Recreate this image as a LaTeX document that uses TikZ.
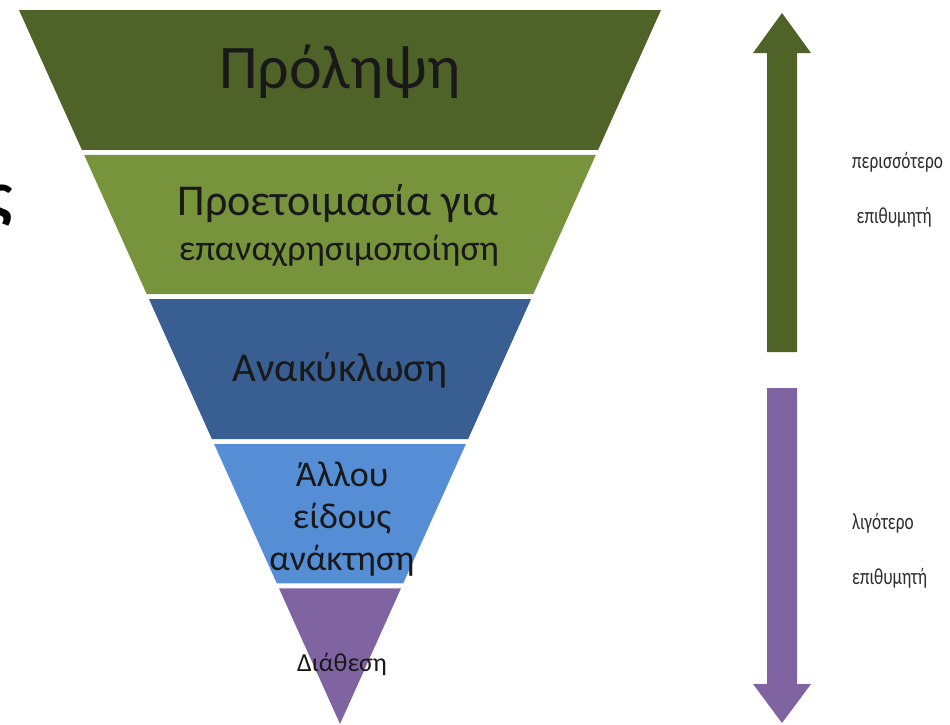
\documentclass[tikz,border=0pt]{standalone}
\usepackage{fontspec}
\setmainfont{Carlito}
\usepackage{tikz}
\usetikzlibrary{calc,positioning}
\definecolor{prevgreen}{RGB}{79,98,40}
\definecolor{prepgreen}{RGB}{119,147,60}
\definecolor{recyblue}{RGB}{56,94,146}
\definecolor{recovblue}{RGB}{85,142,213}
\definecolor{disppurple}{RGB}{128,100,162}
\definecolor{txtdark}{RGB}{25,25,25}
\definecolor{sidegrey}{RGB}{45,45,45}
\tikzstyle{bandtxt} = [text=txtdark, align=center, inner sep=0pt]
\tikzstyle{sidetxt} = [text=sidegrey, align=left, inner sep=0pt, xscale=0.75, transform shape,
	font=\fontsize{23}{55}\selectfont]

\begin{document}
\begin{tikzpicture}[x=1pt, y=-1pt]
\useasboundingbox (0,0) rectangle (950,724);
% corners of the funnel
\coordinate (apex) at (340,724);
\coordinate (tl) at (19,10);
\coordinate (tr) at (661,10);
% the five bands, top to bottom
\foreach \hi/\lo/\col in {1/0.804/prevgreen, 0.797/0.602/prepgreen, 0.595/0.399/recyblue,
	0.392/0.197/recovblue, 0.190/0/disppurple}
	\fill [\col] ($(apex)!\hi!(tl)$) -- ($(apex)!\hi!(tr)$) -- ($(apex)!\lo!(tr)$) -- ($(apex)!\lo!(tl)$) -- cycle;

\node(prev) [bandtxt, font=\fontsize{62}{68}\selectfont] at (340,72) {Πρόληψη};
\node(prep) [bandtxt, font=\fontsize{44}{50}\selectfont] at (338,204) {Προετοιμασία για};
\node(prep2) [bandtxt, font=\fontsize{36}{40}\selectfont] at (339,251) {επαναχρησιμοποίηση};
\node(recy) [bandtxt, font=\fontsize{41}{46}\selectfont] at (340,370) {Ανακύκλωση};
\node(recov) [bandtxt, font=\fontsize{36}{42}\selectfont] at (342,519) {Άλλου\\είδους\\ανάκτηση};
\node(disp) [bandtxt, font=\fontsize{26}{30}\selectfont] at (342,664) {Διάθεση};

% cut-off letter at the left edge
\node(sig) [anchor=east, inner sep=0pt, font=\bfseries\fontsize{64}{64}\selectfont] at (13,206) {ς};

% direction arrows
\fill [prevgreen] (782,13) -- (811,53) -- (797,53) -- (797,352) -- (767,352) -- (767,53) -- (753,53) -- cycle;
\fill [disppurple] (782,723) -- (811,684) -- (797,684) -- (797,388) -- (767,388) -- (767,684) -- (753,684) -- cycle;
\coordinate (upar) at (782,190);
\coordinate (dnar) at (782,550);

\node(uplbl) [sidetxt, anchor=west] at (852,190) {περισσότερο\\\hspace*{6pt}επιθυμητή};
\node(dnlbl) [sidetxt, anchor=west] at (852,551) {λιγότερο\\επιθυμητή};
\end{tikzpicture}
\end{document}
